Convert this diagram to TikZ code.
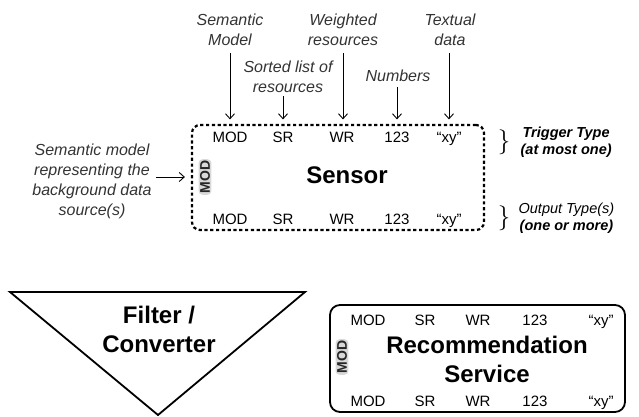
\documentclass[tikz,border=0pt]{standalone}
\usepackage{fontspec}
\setmainfont{Liberation Sans}
\usetikzlibrary{positioning, arrows.meta}

\begin{document}
\begin{tikzpicture}[x=1pt,y=-1pt, >={Straight Barb[length=5pt,width=9pt]}]
\tikzstyle{cell}=[font=\fontsize{15}{18}\selectfont, inner sep=1pt, text height=10.8pt, text depth=0pt]
\tikzstyle{note}=[font=\fontsize{16}{20}\selectfont\itshape, text=black!80, align=center, inner sep=1pt]
\tikzstyle{title}=[font=\fontsize{24}{29}\selectfont\bfseries, align=center, inner sep=0pt]
\tikzstyle{modtag}=[font=\fontsize{14}{16}\selectfont\bfseries, text=black!85, rotate=90, fill=black!15, rounded corners=4pt, inner sep=1.5pt]
\tikzstyle{typenote}=[font=\fontsize{14.5}{17.5}\selectfont\itshape, align=center, inner sep=0pt]
\tikzstyle{brace}=[font=\fontsize{26}{26}\selectfont, inner sep=0pt]
\tikzstyle{sensorbox}=[draw, line width=2.2pt, dash pattern=on 3.2pt off 2.6pt, rounded corners=8pt, minimum width=292pt, minimum height=105pt]
\tikzstyle{recbox}=[draw, line width=1.8pt, rounded corners=10pt, minimum width=295pt, minimum height=107pt]
\tikzstyle{feed}=[->, line width=0.9pt]
\useasboundingbox (0,0) rectangle (639,416);

\node[sensorbox] (sensor) at (338,177.5) {};
\node[title] (sensorname) at (347,175) {Sensor};
\node[modtag] (smod) at (205,177) {MOD};
\node[cell] (mod1) at (230,137) {MOD};
\node[cell] (sr1) at (283,137) {SR};
\node[cell] (wr1) at (342,137) {WR};
\node[cell] (num1) at (397,137) {123};
\node[cell] (txt1) at (449,137) {“xy”};
\node[cell] (mod2) at (230,219) {MOD};
\node[cell] (sr2) at (283,219) {SR};
\node[cell] (wr2) at (342,219) {WR};
\node[cell] (num2) at (397,219) {123};
\node[cell] (txt2) at (449,219) {“xy”};

\node[note] (semlbl) at (230,30) {Semantic\\Model};
\node[note] (wrlbl) at (343,30) {Weighted\\resources};
\node[note] (txtlbl) at (450,30) {Textual\\data};
\node[note] (srlbl) at (288,77) {Sorted list of\\resources};
\node[note] (numlbl) at (398,76) {Numbers};
\node[note, inner sep=4pt] (bglbl) at (92,181) {Semantic model\\representing the\\background data\\source(s)};

\draw[feed, shorten <=6pt, shorten >=11pt] (semlbl.south) -- (mod1.north);
\draw[feed, shorten <=2pt, shorten >=11pt] (srlbl.south -| sr1) -- (sr1.north);
\draw[feed, shorten <=6pt, shorten >=11pt] (wrlbl.south) -- (wrlbl.south |- wr1.north);
\draw[feed, shorten <=4pt, shorten >=11pt] (numlbl.south -| num1) -- (num1.north);
\draw[feed, shorten <=6pt, shorten >=11pt] (txtlbl.south -| txt1) -- (txt1.north);
\draw[feed, shorten >=6pt] (bglbl.east |- smod) -- (sensor.west |- smod);

\node[brace] (trigbrace) at (504,142) {$\}$};
\node[typenote, right=10pt of trigbrace] (trignote) {\bfseries Trigger Type\\\bfseries (at most one)};
\node[brace] (outbrace) at (504,218) {$\}$};
\node[typenote, right=8pt of outbrace] (outnote) {Output Type(s)\\\bfseries (one or more)};

\coordinate (fl) at (10,292);
\coordinate (fr) at (305,292);
\coordinate (fb) at (158,415);
\draw[line width=1.8pt, line join=miter] (fl) -- (fr) -- (fb) -- cycle;
\node[title] (filtername) at (159,329) {Filter /\\Converter};

\node[recbox] (rec) at (477.5,358.5) {};
\node[title] (recname) at (487,359) {Recommendation\\Service};
\node[modtag] (rmod) at (342,357) {MOD};
\node[cell] (mod3) at (368,320) {MOD};
\node[cell] (sr3) at (425,320) {SR};
\node[cell] (wr3) at (478,320) {WR};
\node[cell] (num3) at (535,320) {123};
\node[cell] (txt3) at (601,320) {“xy”};
\node[cell] (mod4) at (368,401) {MOD};
\node[cell] (sr4) at (425,401) {SR};
\node[cell] (wr4) at (478,401) {WR};
\node[cell] (num4) at (535,401) {123};
\node[cell] (txt4) at (601,401) {“xy”};
\end{tikzpicture}
\end{document}
